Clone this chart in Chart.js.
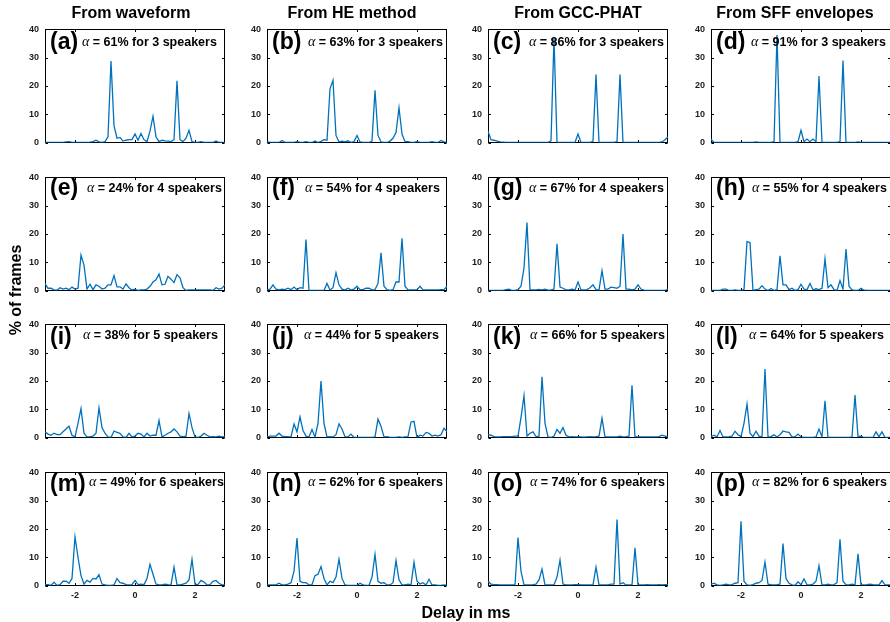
<!DOCTYPE html>
<html>
<head>
<meta charset="utf-8">
<script src="https://cdn.jsdelivr.net/npm/chart.js@4.4.1/dist/chart.umd.min.js"></script>
<style>
  body { margin: 0; width: 890px; height: 622px; overflow: hidden; background: #fff; position: relative;
         font-family: "Liberation Sans", Arial, sans-serif; color: #000; }
  canvas { position: absolute; }
  .txt { position: absolute; font-weight: bold; white-space: nowrap; }
  .title { font-size: 16px; line-height: 18px; text-align: center; width: 220px; }
  .letter { font-size: 23px; line-height: 24px; }
  .alpha { font-size: 12.5px; line-height: 14px; }
  .alpha i { font-family: "Liberation Serif", "DejaVu Serif", serif; font-weight: normal; font-size: 14px; }
</style>
</head>
<body>
<script>
// delay grid in ms, one value every 0.1 ms
const delays = Array.from({ length: 61 }, (_, i) => Math.round((-3 + i * 0.1) * 10) / 10);
const xTicks = [-2, 0, 2];
const yTicks = [0, 10, 20, 30, 40];

const columnTitles = ["From waveform", "From HE method", "From GCC-PHAT", "From SFF envelopes"];
const panelLetters = ["a", "b", "c", "d", "e", "f", "g", "h", "i", "j", "k", "l", "m", "n", "o", "p"];
const alphaPct = [61, 63, 86, 91, 24, 54, 67, 55, 38, 44, 66, 64, 49, 62, 74, 82];
const speakers = [3, 4, 5, 6];

// % of frames per delay
const panelA = [0,0,0,0,0,0,0,0.2,0.3,0, 0,0,0,0,0,0.1,0.3,0.8,0.2,0, 0.3,2,28.8,6,1.5,1.8,0.5,0.8,1,1,
  3,0.8,3.2,1,0.3,4,9.3,2,0.3,0.8, 0.6,0.5,0.3,1,21.8,1,0.3,1.5,4.3,0.3, 0,0,0.3,0,0,0,0,0.5,0,0, 0];
const panelB = [0.3,0,0,0,0,0.7,0,0,0,0, 0.3,0,0,0.3,0,0,0.5,0,0.4,1, 0.8,19,22,2.5,0.2,0.5,0.2,0.6,0,0.3,
  2.5,0.2,0,0,0,0.5,18.5,2.5,0.2,0, 0,0.5,1.5,3.5,12.3,3,0.3,0.3,0,0, 0.3,0,0,0,0,0.3,0,0,0.7,0.2, 0];
const panelC = [4,1,0.8,0.5,0.2,0.1,0,0,0,0, 0,0,0,0,0,0,0,0,0,0, 0,0.6,37,0,0,0,0,0,0,0,
  3,0,0,0,0,0.5,24,0,0,0, 0,0,0,0.3,24,0,0,0,0,0, 0,0,0,0,0,0,0,0,0.2,1, 2];
const panelD = [1.2,0,0,0,0,0,0,0,0,0, 0,0,0,0,0,0.2,0,0,0,0, 0,0.3,38,0,0,0,0,0,0,0.3,
  4.3,0.3,1.2,0.3,1.2,0.3,23.5,0,0,0, 0,0,0,0.3,29,0,0,0,0,0.2, 0,0,0,0,0,0,0,0,0,0, 0];
const panelE = [2.5,0.8,0.8,0.2,0.1,1,0.5,0.8,0.3,1.2, 0.5,0.8,12.5,9,0.5,2.2,0.3,2,1.5,0.5, 0.8,2,2,5.3,1.3,1.3,0.5,2.3,1,0.2,
  0.5,0,0.2,0.2,0.5,1.5,3,3.8,5.8,2, 2.2,5,4,2.8,5.6,4.5,1,0,0.2,0.2, 0.2,0.2,0.2,0.2,0.2,0.2,0,1,0.5,0.8, 2];
const panelF = [0.2,0.5,2,0.5,0.2,0.5,0.3,0.8,0.3,1.2, 0.3,1,0.8,18,0,0,0,0,0,0, 2.5,0.2,1,6.3,2,0.5,0.2,0.8,0.2,0.5,
  1.5,0.3,0.3,0.8,0.8,0.2,0.3,2.5,13.3,1.5, 0.3,0,0.3,3,3,18.5,1.5,0.2,0.2,0.2, 0.3,1.5,0.2,0.2,0.2,0.2,0.2,0.2,0.3,0.3, 1.5];
const panelG = [0,0,0,0,0,0,0.3,0.5,0,0, 0.3,1.5,8,24,0.3,0.2,0.2,0.4,0.2,0.5, 0.1,0.2,0.5,16.5,1.2,0.8,0.2,0.2,0.5,0.2,
  3,0.2,0.2,0.3,1,2,0.3,0.2,7,0.5, 0.5,1.2,1,0.8,1.5,20,0.5,0.5,0.2,0.5, 2,0.5,0.1,0,0,0,0,0,0,0, 0.5];
const panelH = [0,0,0,0,0.5,0.5,0,0,0.2,0, 0,0.3,17.3,17,0,0.3,0.5,1.7,0.5,0, 0.7,0,0.3,12.3,2,2,0.3,0.8,0,0.3,
  2.2,0.5,0.3,2.5,0.2,0.6,0.3,0.8,11.2,1, 2,0.3,0,3.5,0.5,14.7,1.5,0.2,0,0, 0.8,0.1,0,0,0,0,0,0,0,0, 0];
const panelI = [2,1.2,0.8,1.5,1,1,2,3,4,0.8, 0.2,5,10.2,1.5,0.2,0.3,0.5,1.5,10.5,3.5, 1.5,0.2,0,2.3,1.8,1.5,0.2,0,1.5,0.2,
  0.5,1.5,1.2,0.2,1.5,0.5,0.8,0.8,6,0.2, 0.8,1.5,2,3,2,0.5,0.3,0.5,8.5,3.5, 0.2,0,0.5,1.5,0.8,0.2,0.3,0.2,0.5,0.2, 0.3];
const panelJ = [0.2,0.5,0.5,0.5,1.5,0.5,0.3,0.3,0.2,4.8, 2,7.3,2.5,0.5,0.2,2.8,0.2,5,20,5, 0.2,0.3,0.2,1,4.8,3,0.3,0.2,1.2,0,
  0,0,0,0,0,0,0.2,6.5,4,0.2, 0.3,0,0,0,0.2,0,0.2,0.3,5.5,5.7, 0,0.8,0.5,1.8,1.5,0.5,0.8,0.5,1,3.3, 2];
const panelK = [1,0.8,0.3,0.2,0.2,0.3,0.3,0.3,0.3,0.5, 0.5,7,14.8,0.5,1.5,2,0.3,0.5,21.5,5, 0.2,0,0.5,2.8,1.5,3.5,0.8,0.2,0.3,0.2,
  0.2,0.2,0.1,0.2,0.3,0.2,0.3,0.5,6.8,0.2, 0.2,0.2,0.2,0.2,0.5,0.2,0.3,0.5,18.5,0.2, 0.2,0.2,0.2,0.2,0.2,0.2,0.2,0.3,0.8,0.5, 0.2];
const panelL = [0.3,0.8,0.2,2.5,0.2,0.2,0.3,0.5,2.2,1, 0.3,5,11.8,1.5,0.3,2.2,0.5,0.2,24.2,0.2, 0.3,1,0.2,1,2.3,2,1.8,0.2,0.3,1.2,
  0.2,0,0,0,0,0.2,3,0.2,13,0, 0,0,0,0,0,0,0,0.2,15,0.3, 0.5,0,0,0,0,2,0.3,2,0,0, 0];
const panelM = [0.3,0.3,0,1.2,0,0.3,1.5,1.5,0.8,2.5, 17.2,10,3.5,0.5,1.8,1.2,2.5,2.3,3.8,0.5, 0.2,0,0,0.2,2.5,1,0.8,0.3,0.2,0.3,
  1.8,0.3,0.5,0.3,2.5,7.5,4,0.5,0.2,0.2, 0.5,0.3,0.2,6.5,0.2,0.2,0.5,0.8,2,9.2, 0.5,0.3,1.8,1.2,0.2,0.3,1.5,1.8,0.8,0.2, 0.2];
const panelN = [0.2,0.2,0.2,0.2,0.8,0.2,0.2,0.5,1,5, 16.8,1.5,1,1,0.2,0.3,3.5,4,6.7,2.5, 0.2,1.5,1,3,9.3,2.5,0.2,0,0,0,
  0,0.8,0.2,0,0,3,11,1.5,0.8,1, 0.2,0.2,1,8.8,2,0.2,0.2,0.5,0.2,8.2, 1.5,0.5,1,0.2,2.2,0.2,0.2,0,0,0.2, 0];
const panelO = [1.5,0.5,0.3,0.3,0.2,0.2,0.2,0.2,0.2,0.2, 17,5,0.2,0.2,0.2,0.3,0.5,2,5.8,0.2, 0.2,0.2,0.3,3,9,0.5,0.2,0.2,0.2,0.3,
  0.3,0.2,0.2,0.2,0.2,0.2,6.5,0.2,0.2,0.2, 0.2,0.5,0.5,23.3,0.5,1,0.2,0.2,0.2,13.3, 0.2,0.2,0.2,0.3,0.2,0.2,0.2,0.3,0.2,0.3, 0.3];
const panelP = [0.5,0.8,0.2,0,0.2,0.5,0.2,0.3,0.8,1, 22.7,1.5,0.2,0,0.3,0.8,1,1.8,8.3,0.5, 0.3,0.2,0.3,0.5,14.8,2.5,0.8,0.2,0,1.3,
  0.3,2.3,0.2,0.2,0.5,1.5,7,0.2,0.2,0.5, 0.2,0.3,1,16.3,1.5,0.2,0.2,0.5,0.2,11.2, 0.2,0.2,0.3,0.5,0.3,0.2,0.2,1.7,0.2,0.2, 0.2];

const panels = [panelA, panelB, panelC, panelD, panelE, panelF, panelG, panelH,
                panelI, panelJ, panelK, panelL, panelM, panelN, panelO, panelP];

// layout of the grid (pixels)
const colLeft = [45, 267, 488, 711];
const rowTop = [24, 172, 319, 467];
const titleCenter = [131, 352, 578, 795];
const plotW = 180, plotH = 119;
const axisW = 40, axisH = 22, padT = 6, padR = 6;
const letterDy = [19.3, 17, 19, 18];
const alphaDy = [17.7, 15.8, 16, 14.7];
const alphaDx = [37, 41, 41, 40, 42, 38, 41, 41, 38, 37, 42, 38, 44, 41, 42, 41];

Chart.defaults.font.family = "'Liberation Sans', Arial, sans-serif";

// black box with small inward ticks, drawn under the curve
const boxPlugin = {
  id: "box",
  beforeDatasetsDraw(chart) {
    const { ctx, chartArea: a, scales } = chart;
    const L = Math.round(a.left) + 0.5, R = Math.round(a.right) - 0.5;
    const T = Math.round(a.top) + 0.5, B = Math.round(a.bottom) - 0.5;
    ctx.save();
    ctx.strokeStyle = "#000";
    ctx.lineWidth = 1;
    ctx.strokeRect(L, T, R - L, B - T);
    ctx.beginPath();
    yTicks.forEach(v => {
      const y = Math.round(scales.y.getPixelForValue(v)) + 0.5;
      ctx.moveTo(L, y); ctx.lineTo(L + 2.5, y);
      ctx.moveTo(R, y); ctx.lineTo(R - 2.5, y);
    });
    xTicks.forEach(v => {
      const x = Math.round(scales.x.getPixelForValue(v)) + 0.5;
      ctx.moveTo(x, B); ctx.lineTo(x, B - 2.5);
      ctx.moveTo(x, T); ctx.lineTo(x, T + 2.5);
    });
    ctx.stroke();
    ctx.restore();
  }
};

function addText(cls, html, left, top) {
  const d = document.createElement("div");
  d.className = "txt " + cls;
  d.innerHTML = html;
  d.style.left = left + "px";
  d.style.top = top + "px";
  document.body.appendChild(d);
  return d;
}

panels.forEach((values, k) => {
  if (values.length !== delays.length) throw new Error("panel " + panelLetters[k] + " has " + values.length);
  const row = Math.floor(k / 4), col = k % 4;
  const cv = document.createElement("canvas");
  cv.width = axisW + plotW + padR;
  cv.height = padT + plotH + axisH;
  cv.style.left = (colLeft[col] - axisW) + "px";
  cv.style.top = (rowTop[row] - padT) + "px";
  document.body.appendChild(cv);

  const tickFont = { size: 9, weight: "bold" };
  new Chart(cv, {
    type: "line",
    data: {
      datasets: [{
        data: values.map((v, i) => ({ x: delays[i], y: v })),
        borderColor: "#0072BD",
        borderWidth: 1.3,
        pointRadius: 0,
        tension: 0,
        fill: false
      }]
    },
    options: {
      responsive: false,
      animation: false,
      events: [],
      // half-pixel top offset puts the zero line right on the bottom border row
      layout: { padding: { top: padT - 0.5, right: padR, left: 0, bottom: 0.5 } },
      plugins: { legend: { display: false }, tooltip: { enabled: false } },
      scales: {
        x: {
          type: "linear", min: -3, max: 3,
          afterBuildTicks: s => { s.ticks = xTicks.map(v => ({ value: v })); },
          afterFit: s => { s.height = axisH; },
          grid: { display: false, drawTicks: false },
          border: { display: false },
          ticks: { display: row === 3, padding: 5, font: tickFont, color: "#1a1a1a", maxRotation: 0 }
        },
        y: {
          min: 0, max: 40,
          afterBuildTicks: s => { s.ticks = yTicks.map(v => ({ value: v })); },
          afterFit: s => { s.width = axisW; },
          grid: { display: false, drawTicks: false },
          border: { display: false },
          ticks: { padding: 6, font: tickFont, color: "#1a1a1a" }
        }
      }
    },
    plugins: [boxPlugin]
  });

  addText("letter", "(" + panelLetters[k] + ")", colLeft[col] + 5, rowTop[row] + letterDy[row] - 14);
  addText("alpha", "<i>α</i> = " + alphaPct[k] + "% for " + speakers[row] + " speakers",
          colLeft[col] + alphaDx[k], rowTop[row] + alphaDy[row] - 6.8);
});

columnTitles.forEach((t, c) => addText("title", t, titleCenter[c] - 110, 4));
addText("title", "Delay in ms", 466 - 110, 604);
const yt = addText("title", "% of frames", 16 - 110, 290 - 9);
yt.style.transform = "rotate(-90deg)";
</script>
</body>
</html>
